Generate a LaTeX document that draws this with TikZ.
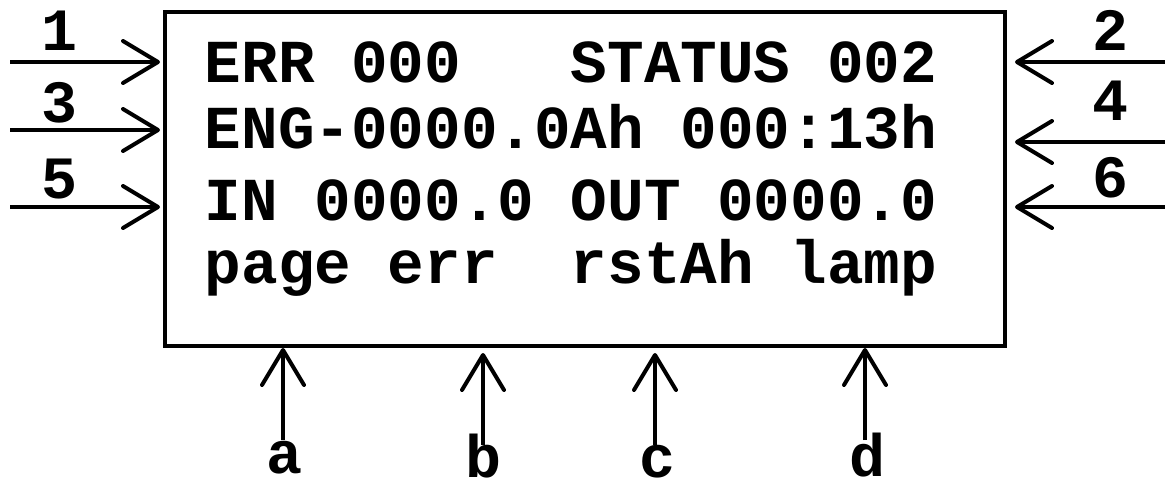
\documentclass[tikz,border=0pt]{standalone}
\usepackage{fontspec}
\setmonofont{Liberation Mono}
\usetikzlibrary{arrows.meta}
\begin{document}
\begin{tikzpicture}[x=1pt,y=-1pt,
  lcdtext/.style={font=\ttfamily\bfseries\fontsize{61}{61}\selectfont, inner sep=0pt, anchor=base},
  tag/.style={font=\ttfamily\bfseries\fontsize{60}{60}\selectfont, inner sep=0pt, anchor=base},
  key/.style={line width=4pt, -{Straight Barb[length=35pt,width=42pt,round]}}
]
\useasboundingbox (0,0) rectangle (1165,488);

% display frame
\node[draw, line width=4pt, minimum width=840pt, minimum height=334pt, inner sep=0pt] (box) at (585,179) {};

% display lines
\node[lcdtext] (l1) at (571,82)  {ERR 000~~~STATUS 002};
\node[lcdtext] (l2) at (571,148) {ENG-0000.0Ah 000:13h};
\node[lcdtext] (l3) at (571,220) {IN 0000.0 OUT 0000.0};
\node[lcdtext] (l4) at (571,283) {page err~~rstAh lamp};

% left-side inputs
\coordinate (t1) at (10,62);   \coordinate (h1) at (160,62);
\coordinate (t3) at (10,130);  \coordinate (h3) at (160,130);
\coordinate (t5) at (10,207);  \coordinate (h5) at (160,207);
\draw[key] (t1) -- (h1);
\draw[key] (t3) -- (h3);
\draw[key] (t5) -- (h5);
\node[tag] (n1) at (60,50)  {1};
\node[tag] (n3) at (60,122) {3};
\node[tag] (n5) at (60,198) {5};

% right-side inputs
\coordinate (t2) at (1165,62);  \coordinate (h2) at (1015,62);
\coordinate (t4) at (1165,142); \coordinate (h4) at (1015,142);
\coordinate (t6) at (1165,207); \coordinate (h6) at (1015,207);
\draw[key] (t2) -- (h2);
\draw[key] (t4) -- (h4);
\draw[key] (t6) -- (h6);
\node[tag] (n2) at (1110,50)  {2};
\node[tag] (n4) at (1110,120) {4};
\node[tag] (n6) at (1110,197) {6};

% soft keys below
\coordinate (ta) at (283,440); \coordinate (ha) at (283,348);
\coordinate (tb) at (483,445); \coordinate (hb) at (483,353);
\coordinate (tc) at (655,445); \coordinate (hc) at (655,353);
\coordinate (td) at (865,440); \coordinate (hd) at (865,348);
\draw[key] (ta) -- (ha);
\draw[key] (tb) -- (hb);
\draw[key] (tc) -- (hc);
\draw[key] (td) -- (hd);
\node[tag] (na) at (285,473) {a};
\node[tag] (nb) at (483,477) {b};
\node[tag] (nc) at (657,477) {c};
\node[tag] (nd) at (867,476) {d};
\end{tikzpicture}
\end{document}
